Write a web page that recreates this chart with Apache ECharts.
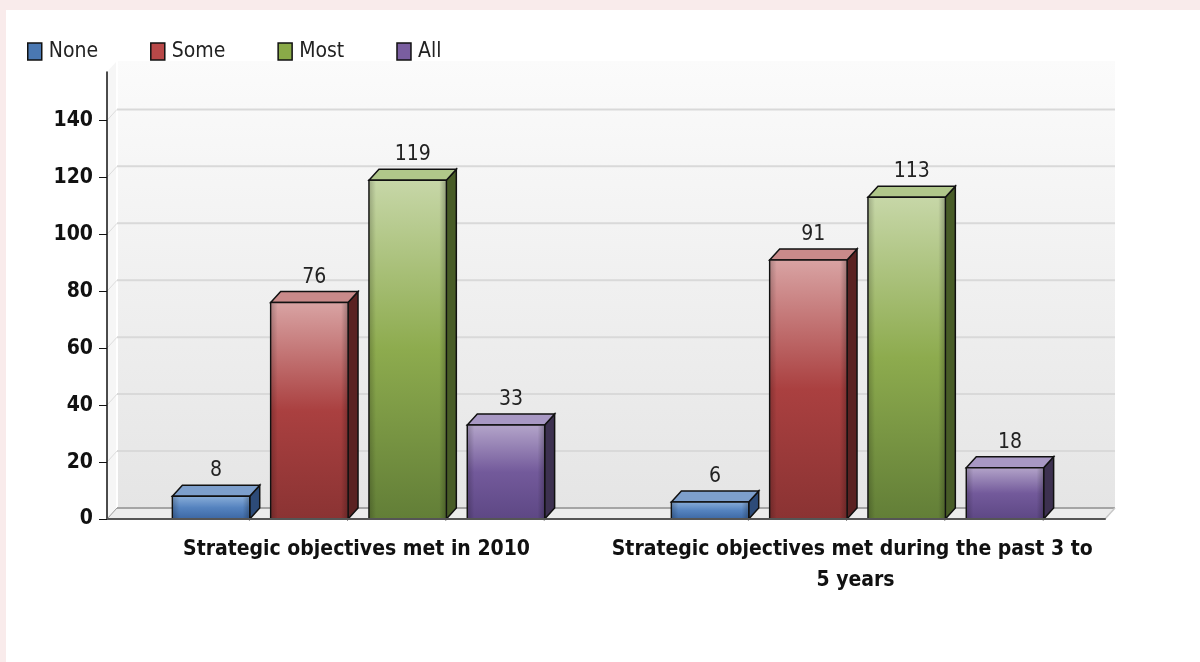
<!DOCTYPE html>
<html><head><meta charset="utf-8">
<script src="https://cdn.jsdelivr.net/npm/echarts@6/dist/echarts.min.js"></script>
<style>
html,body{margin:0;padding:0;background:#f9ebeb;width:1200px;height:662px;overflow:hidden}
#c{position:absolute;left:6px;top:10px;width:1194px;height:652px;background:#fff}
</style></head><body><div id="c"></div>
<script>
const categories = ['Strategic objectives met in 2010', 'Strategic objectives met during the past 3 to 5 years'];
const seriesNames = ['None', 'Some', 'Most', 'All'];
const noneValues = [8, 6];
const someValues = [76, 91];
const mostValues = [119, 113];
const allValues = [33, 18];
const yTicks = [0, 20, 40, 60, 80, 100, 120, 140];

const FONT = "'Liberation Sans Narrow', 'Arial Narrow', 'DejaVu Sans Condensed', sans-serif";
const DX = 10, DY = 11;
const pal = [
  {legend:'#4a78b2', light:'#8db0da', mid:'#5583bf', dark:'#3b66a2', side:'#2d4b78', top:'#7d9fcc'},
  {legend:'#b84848', light:'#d9a4a4', mid:'#aa4040', dark:'#8a3333', side:'#5a2222', top:'#c98a8a'},
  {legend:'#8aaa48', light:'#c7d7a8', mid:'#8dab4e', dark:'#627e37', side:'#485c27', top:'#b0c78a'},
  {legend:'#7a5ea0', light:'#b4a5ca', mid:'#735a9b', dark:'#5d4784', side:'#3d3150', top:'#a898c4'}
];
const valueArrays = [noneValues, someValues, mostValues, allValues];

function barRenderer(si) {
  return function (params, api) {
    const ci = api.value(0), v = api.value(1);
    const base = api.coord([ci, 0]);
    const top = api.coord([ci, v]);
    const bw = api.size([1, 0])[0];
    const w = bw * 0.155, pitch = bw * 0.197;
    const cx = base[0] + (si - 1.5) * pitch + 2;
    const x0 = cx - w / 2, x1 = cx + w / 2;
    const yb = base[1], yt = top[1];
    const p = pal[si];
    const h = yb - yt;
    return {
      type: 'group',
      children: [
        {type: 'polygon', shape: {points: [[x1, yt], [x1 + DX, yt - DY], [x1 + DX, yb - DY], [x1, yb]]},
          style: {fill: p.side, stroke: '#111', lineWidth: 1.5}},
        {type: 'polygon', shape: {points: [[x0, yt], [x0 + DX, yt - DY], [x1 + DX, yt - DY], [x1, yt]]},
          style: {fill: p.top, stroke: '#111', lineWidth: 1.5}},
        {type: 'rect', shape: {x: x0, y: yt, width: w, height: h},
          style: {fill: new echarts.graphic.LinearGradient(0, 0, 0, 1, [
            {offset: 0, color: p.light}, {offset: 0.5, color: p.mid}, {offset: 1, color: p.dark}]),
            stroke: '#111', lineWidth: 1.5}},
        {type: 'rect', shape: {x: x0 + 1, y: yt + 1, width: w - 2, height: Math.max(h - 2, 0)},
          style: {fill: new echarts.graphic.LinearGradient(0, 0, 1, 0, [
            {offset: 0, color: 'rgba(0,0,0,0.18)'}, {offset: 0.08, color: 'rgba(0,0,0,0)'},
            {offset: 0.92, color: 'rgba(0,0,0,0)'}, {offset: 1, color: 'rgba(0,0,0,0.22)'}])}},
        {type: 'text', style: {text: String(v), x: cx + DX / 2, y: yt - DY - 4, align: 'center', verticalAlign: 'bottom',
          font: '21px ' + FONT, fill: '#222'}}
      ]
    };
  };
}

function wallRenderer(params, api) {
  const cs = params.coordSys;
  const xl = cs.x, xr = cs.x + cs.width;
  const y0 = api.coord([0, 0])[1];
  const yTop = cs.y;
  const ch = [];
  ch.push({type: 'polygon', shape: {points: [[xl, yTop], [xl + DX, yTop - DY], [xl + DX, y0 - DY], [xl, y0]]},
    style: {fill: '#f6f6f6'}});
  ch.push({type: 'rect', shape: {x: xl + DX, y: yTop - DY, width: cs.width, height: y0 - yTop},
    style: {fill: new echarts.graphic.LinearGradient(0, 0, 0, 1, [
      {offset: 0, color: '#fbfbfb'}, {offset: 1, color: '#e5e5e5'}])}});
  ch.push({type: 'line', shape: {x1: xl + DX, y1: yTop - DY, x2: xl + DX, y2: y0 - DY}, style: {stroke: '#ffffff', lineWidth: 2}});
  ch.push({type: 'polygon', shape: {points: [[xl, y0], [xl + DX, y0 - DY], [xr + DX, y0 - DY], [xr, y0]]},
    style: {fill: '#ececec'}});
  yTicks.forEach(function (t) {
    const y = api.coord([0, t])[1];
    if (t > 0) {
      ch.push({type: 'line', shape: {x1: xl + DX, y1: y - DY, x2: xr + DX, y2: y - DY}, style: {stroke: '#d9d9d9', lineWidth: 2}});
      ch.push({type: 'line', shape: {x1: xl, y1: y, x2: xl + DX, y2: y - DY}, style: {stroke: '#dddddd', lineWidth: 1}});
    }
  });
  ch.push({type: 'line', shape: {x1: xl + DX, y1: y0 - DY, x2: xr + DX, y2: y0 - DY}, style: {stroke: '#a5a5a5', lineWidth: 2}});
  ch.push({type: 'line', shape: {x1: xl, y1: y0, x2: xl + DX, y2: y0 - DY}, style: {stroke: '#9a9a9a', lineWidth: 1}});
  ch.push({type: 'line', shape: {x1: xr, y1: y0, x2: xr + DX, y2: y0 - DY}, style: {stroke: '#c8c8c8', lineWidth: 1.5}});
  return {type: 'group', children: ch};
}

const series = [{
  type: 'custom', name: '_wall', z: 1, silent: true, clip: false,
  renderItem: wallRenderer, data: [[0, 0]], encode: {x: 0, y: 1}
}];
seriesNames.forEach(function (n, si) {
  series.push({
    type: 'custom', name: n, z: 3, clip: false,
    itemStyle: {color: pal[si].legend},
    renderItem: barRenderer(si),
    encode: {x: 0, y: 1},
    data: valueArrays[si].map(function (v, i) { return [i, v]; })
  });
});

const chart = echarts.init(document.getElementById('c'), null, {renderer: 'canvas'});
chart.setOption({
  animation: false,
  backgroundColor: '#ffffff',
  legend: {
    data: seriesNames, left: 16, top: 26, itemWidth: 14, itemHeight: 17, itemGap: 52,
    icon: 'rect',
    itemStyle: {borderColor: '#111', borderWidth: 1.5},
    textStyle: {fontFamily: FONT, fontSize: 21, color: '#222', padding: [0, 0, 0, 2]}
  },
  grid: {left: 101, right: 95, top: 62, bottom: 143, containLabel: false},
  xAxis: {
    type: 'category', data: categories, z: 10,
    axisLine: {lineStyle: {color: '#555', width: 2}},
    axisTick: {alignWithLabel: true, length: 8, lineStyle: {color: '#555', width: 1}},
    axisLabel: {interval: 0, fontFamily: FONT, fontWeight: 'bold', fontSize: 21, color: '#111',
      width: 490, overflow: 'break', lineHeight: 31, margin: 15},
    splitLine: {show: false}
  },
  yAxis: {
    type: 'value', min: 0, max: 157, z: 10,
    axisLine: {show: true, lineStyle: {color: '#111', width: 1.5}},
    axisTick: {show: true, length: 8, customValues: yTicks, lineStyle: {color: '#111', width: 1}},
    axisLabel: {customValues: yTicks, fontFamily: FONT, fontWeight: 'bold', fontSize: 21, color: '#111', margin: 14},
    splitLine: {show: false}
  },
  series: series
});
</script></body></html>
